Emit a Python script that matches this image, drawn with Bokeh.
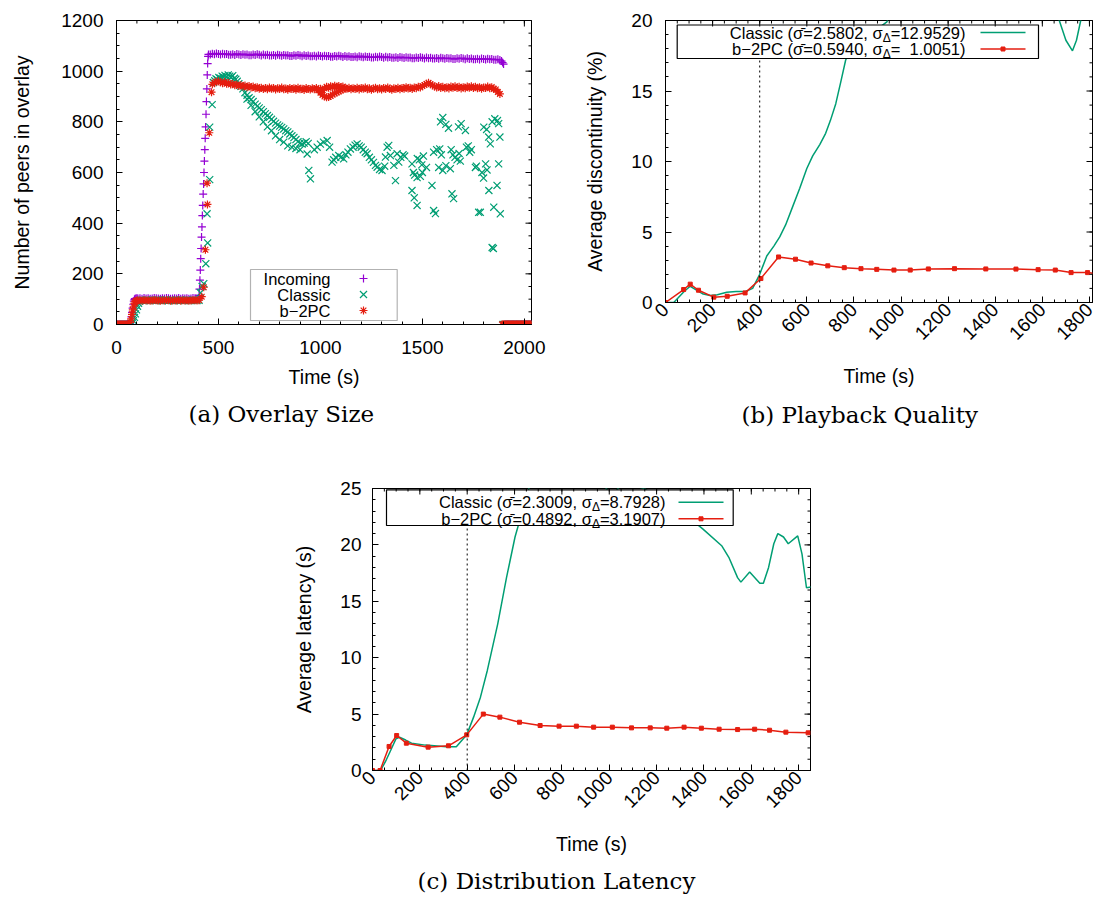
import math
from bokeh.plotting import figure
from bokeh.models import Range1d, FixedTicker, Span, BoxAnnotation, Label, Spacer, Title
from bokeh.layouts import row, column
from bokeh.embed import file_html
from bokeh.resources import INLINE

PURPLE = "#9400d3"
GREEN = "#009e73"
RED = "#e51e10"
SANS = "Liberation Sans"
SERIF = "DejaVu Serif"

# ---------------- (a) Overlay size : scatter samples ----------------
inc_t = (list(range(0, 65, 5)) + [67, 70, 73, 76, 79, 82, 85, 88, 91, 95, 100]
         + list(range(105, 405, 10)) + list(range(405, 452, 2))
         + list(range(460, 1890, 10)) + [1888, 1893, 1898] + list(range(1905, 2040, 5)))
inc_v = ([0, 0, 0, 0, 0, 0, 0, 0, 0, 0, 0, 0, 0]
         + [5, 15, 30, 48, 65, 80, 92, 99, 102, 103, 104]
         + [103, 104, 102, 105, 103, 104, 102, 103, 105, 104, 103, 102, 104, 103, 105,
            104, 102, 103, 104, 103, 105, 102, 104, 103, 104, 102, 103, 105, 104, 103]
         + [115, 140, 175, 215, 260, 300, 345, 385, 430, 470, 515, 555, 600, 645, 690,
            735, 780, 830, 880, 930, 985, 1030, 1058, 1066]
         + [1066, 1069, 1067, 1070, 1068, 1066, 1069, 1067, 1068, 1065,
            1065, 1067, 1064, 1068, 1066, 1064, 1067, 1065, 1066, 1063,
            1063, 1066, 1064, 1067, 1065, 1062, 1066, 1063, 1065, 1062,
            1062, 1064, 1061, 1065, 1063, 1061, 1064, 1062, 1063, 1060,
            1060, 1063, 1061, 1064, 1062, 1059, 1063, 1060, 1062, 1059,
            1059, 1061, 1058, 1062, 1060, 1058, 1061, 1059, 1060, 1057,
            1057, 1060, 1058, 1061, 1059, 1056, 1060, 1057, 1059, 1056,
            1056, 1058, 1055, 1059, 1057, 1055, 1058, 1056, 1057, 1054,
            1054, 1057, 1055, 1058, 1056, 1053, 1057, 1054, 1056, 1053,
            1053, 1055, 1052, 1056, 1054, 1052, 1055, 1053, 1054, 1051,
            1051, 1054, 1052, 1055, 1053, 1050, 1054, 1051, 1053, 1050,
            1050, 1052, 1049, 1053, 1051, 1049, 1052, 1050, 1051, 1048,
            1048, 1051, 1049, 1052, 1050, 1047, 1051, 1048, 1050, 1047,
            1047, 1049, 1046, 1050, 1048, 1046, 1049, 1047, 1048, 1045,
            1045, 1047, 1044]
         + [1040, 1034, 1028]
         + [0, 0, 0, 0, 0, 0, 0, 0, 0, 0, 0, 0, 0, 0, 0, 0, 0, 0, 0, 0, 0, 0, 0, 0, 0, 0, 0])

cls_t_start = list(range(0, 75, 5)) + [78, 83, 88, 93, 98, 103, 108, 113, 118] + list(range(125, 415, 10))
cls_v_start = ([0, 0, 0, 0, 0, 0, 0, 0, 0, 0, 0, 0, 0, 0, 0]
               + [5, 15, 28, 42, 58, 72, 84, 92, 95]
               + [96, 95, 97, 96, 94, 96, 95, 97, 96, 95, 94, 96, 97, 95, 96, 95, 94, 96, 95,
                  97, 96, 95, 96, 94, 95, 97, 96, 95, 96])
cls_points = [
    (412, 125), (420, 150), (428, 161), (438, 240), (447, 322), (444, 437), (457, 572), (457, 779), (469, 868),
    (475, 955), (482, 962), (488, 970), (495, 966), (502, 975), (510, 972), (518, 980), (525, 976), (532, 983),
    (540, 978), (548, 985), (555, 980), (562, 976), (570, 982), (578, 972), (585, 968), (592, 960), (600, 950),
    (610, 940), (620, 930), (630, 915), (640, 905), (650, 895), (660, 888), (670, 880), (680, 870), (690, 862),
    (700, 855), (710, 848), (720, 840), (730, 832), (740, 825), (750, 818), (760, 810), (770, 802), (780, 795),
    (790, 788), (800, 783), (810, 778), (820, 772), (830, 765), (840, 760), (850, 752), (860, 745), (870, 738),
    (880, 730), (890, 722), (900, 716), (910, 712), (920, 716), (930, 722), (940, 715),
    (640, 890), (660, 865), (680, 840), (700, 820), (720, 800), (740, 780), (760, 765), (780, 745), (800, 730),
    (820, 720), (840, 705), (860, 700), (880, 695), (900, 690),
    (935, 673), (943, 608), (951, 575),
    (970, 690), (984, 700), (1000, 712), (1015, 720), (1033, 726), (1045, 700), (1057, 641), (1065, 650),
    (1075, 660), (1090, 667), (1100, 660), (1114, 654), (1125, 670), (1135, 680), (1147, 693), (1160, 700),
    (1170, 708), (1180, 713), (1190, 705), (1200, 700), (1210, 690), (1220, 680), (1229, 674), (1240, 660),
    (1250, 650), (1260, 640), (1270, 628), (1278, 621), (1290, 612), (1302, 608), (1315, 625), (1319, 661),
    (1327, 700), (1335, 707), (1343, 667), (1360, 628), (1368, 568), (1376, 674), (1384, 641),
    (1394, 660), (1405, 670), (1413, 665), (1449, 634), (1456, 600), (1462, 590), (1474, 580), (1490, 585),
    (1500, 600), (1449, 529), (1460, 500), (1474, 470), (1475, 655), (1485, 650), (1497, 630), (1505, 665),
    (1520, 620), (1547, 549), (1555, 680), (1570, 690), (1585, 693), (1593, 670), (1555, 450), (1564, 438),
    (1580, 620), (1600, 608), (1615, 627), (1637, 615), (1589, 800), (1600, 817), (1615, 790), (1628, 775),
    (1641, 690), (1650, 670), (1660, 660), (1670, 650), (1680, 675), (1686, 645), (1645, 516), (1653, 497),
    (1677, 780), (1690, 793), (1711, 766), (1716, 700), (1725, 705), (1732, 680), (1740, 690), (1760, 620),
    (1765, 625), (1776, 443), (1784, 443), (1792, 600), (1800, 578), (1810, 634), (1817, 610), (1801, 779),
    (1815, 770), (1825, 740), (1833, 713), (1826, 529), (1842, 800), (1855, 812), (1868, 805), (1874, 793),
    (1842, 304), (1848, 300), (1850, 463), (1866, 549), (1874, 634), (1880, 740), (1882, 437),
]
cls_t_end = list(range(1895, 2040, 5))
cls_v_end = [0] * len(cls_t_end)

b2_t = (list(range(0, 65, 5)) + [68, 72, 76, 80, 84, 88, 92, 96, 100] + list(range(105, 415, 10))
        + [418, 428, 436, 444, 446, 455, 466] + list(range(470, 1890, 10)))
b2_v = ([0, 0, 0, 0, 0, 0, 0, 0, 0, 0, 0, 0, 0]
        + [8, 22, 40, 58, 72, 84, 90, 93, 95]
        + [95, 96, 94, 97, 95, 96, 94, 95, 97, 96, 95, 94, 96, 95, 97, 96, 94, 95, 96, 95,
           97, 94, 96, 95, 96, 94, 95, 97, 96, 95, 96]
        + [110, 147, 295, 558, 474, 757, 917]
        + [948, 955, 958, 960, 956, 952, 957, 950, 953, 947,
           949, 944, 947, 941, 945, 939, 943, 937, 941, 936,
           939, 933, 937, 931, 935, 930, 934, 929, 936, 931,
           934, 928, 933, 930, 936, 929, 932, 927, 934, 930,
           933, 927, 935, 929, 931, 926, 934, 930, 928, 933,
           929, 934, 927, 931, 925, 932, 938, 935, 940, 937,
           942, 938, 941, 936, 939, 934, 931, 935, 929, 933,
           930, 935, 928, 934, 931, 936, 929, 933, 927, 932,
           935, 929, 933, 928, 934, 930, 936, 931, 927, 933,
           930, 935, 929, 934, 931, 937, 932, 935, 930, 936,
           933, 938, 936, 941, 945, 950, 954, 948, 944, 939,
           936, 941, 934, 938, 933, 937, 932, 939, 935, 940,
           934, 938, 932, 937, 933, 939, 935, 940, 934, 938,
           933, 937, 931, 936, 934, 939, 933, 937, 930, 928,
           918, 910])
b2_loop_t = [990, 1000, 1010, 1020, 1030, 1040, 1050, 1060, 1070, 1080, 1090, 1100, 1110, 1120]
b2_loop_v = [925, 915, 906, 900, 897, 898, 902, 908, 912, 916, 920, 924, 928, 931]
b2_end_t = list(range(1890, 2036, 4))
b2_end_v = [0] * len(b2_end_t)

# ---------------- (b) Playback quality ----------------
pq_cls_t = [0, 35, 55, 80, 105, 130, 160, 190, 220, 260, 300, 340, 370, 400, 430, 460, 485, 510, 540, 570,
            600, 625, 655, 680, 700, 723, 745, 765, 800, 850, 900, 940, 1000, 1100, 1200, 1300, 1400, 1500,
            1600, 1650, 1672, 1700, 1728, 1745, 1763, 1790, 1813]
pq_cls_v = [0, 0, 0.35, 0.8, 1.15, 0.9, 0.6, 0.5, 0.55, 0.72, 0.78, 0.78, 1.0, 2.0, 3.3, 4.0, 4.65, 5.5, 6.8, 8.1,
            9.5, 10.4, 11.2, 12.0, 12.9, 14.1, 15.7, 17.2, 18.4, 19.0, 19.4, 19.9, 22.5, 25.8, 27.5, 27.0, 25.5, 23.8,
            22.0, 20.6, 20.0, 18.6, 17.85, 18.6, 20.0, 22.0, 23.5]
pq_b2_t = [0, 77, 105, 140, 205, 262, 338, 405, 480, 552, 618, 689, 759, 830, 897, 970, 1039, 1116, 1227,
           1360, 1488, 1582, 1655, 1722, 1792, 1830]
pq_b2_v = [0, 0.92, 1.3, 0.87, 0.38, 0.44, 0.68, 1.7, 3.23, 3.07, 2.8, 2.6, 2.47, 2.4, 2.35, 2.3, 2.3, 2.38, 2.4,
           2.38, 2.37, 2.33, 2.3, 2.12, 2.12, 2.05]

# ---------------- (c) Distribution latency ----------------
dl_cls_t = [0, 34, 55, 77, 99, 114, 140, 165, 223, 311, 354, 398, 427, 456, 485, 529, 566, 602, 660, 750,
            850, 950, 1010, 1060, 1148, 1250, 1350, 1396, 1476, 1505, 1542, 1556, 1593, 1636, 1651, 1673,
            1695, 1712, 1736, 1756, 1796, 1814, 1833, 1862]
dl_cls_v = [0, 0, 0.8, 1.8, 2.8, 2.95, 2.7, 2.42, 2.25, 2.1, 2.1, 3.16, 4.73, 6.5, 8.87, 13.0, 17.1, 20.7, 25.0,
            27.5, 28.5, 26.0, 24.4, 25.5, 25.0, 23.5, 22.2, 21.4, 19.9, 18.9, 17.1, 16.7, 17.6, 16.6, 16.6, 18.0,
            20.1, 21.0, 20.7, 20.1, 20.8, 19.2, 16.2, 16.3]
dl_b2_t = [0, 32, 70, 102, 143, 235, 321, 398, 468, 538, 621, 708, 788, 861, 934, 1013, 1094, 1173, 1243,
           1316, 1389, 1464, 1542, 1614, 1677, 1746, 1840]
dl_b2_v = [0, 0, 2.13, 3.1, 2.42, 2.07, 2.19, 3.16, 5.0, 4.73, 4.28, 3.99, 3.93, 3.93, 3.84, 3.84, 3.78, 3.78,
           3.75, 3.84, 3.75, 3.66, 3.63, 3.66, 3.57, 3.4, 3.34]

# legend statistics
stat_b = [("Classic", "2.5802", "12.9529"), ("b\u22122PC", "0.5940", "\u00a0\u00a01.0051")]
stat_c = [("Classic", "2.3009", "8.7928"), ("b\u22122PC", "0.4892", "3.1907")]


class Frame:
    def __init__(self, xr, yr, w, h):
        self.xr, self.yr, self.w, self.h = xr, yr, w, h

    def x(self, px):
        return self.xr[0] + px / self.w * (self.xr[1] - self.xr[0])

    def y(self, py):
        return self.yr[1] - py / self.h * (self.yr[1] - self.yr[0])

    def dx(self, px):
        return px / self.w * (self.xr[1] - self.xr[0])

    def dy(self, py):
        return py / self.h * (self.yr[1] - self.yr[0])


def make_fig(width, height, border, xr, yr):
    p = figure(width=width, height=height, output_backend="svg", toolbar_location=None,
               x_range=Range1d(*xr), y_range=Range1d(*yr),
               min_border_left=border[0], min_border_right=border[1],
               min_border_top=border[2], min_border_bottom=border[3])
    p.grid.visible = False
    p.outline_line_color = "black"
    p.outline_line_width = 1
    p.background_fill_color = "white"
    p.border_fill_color = "white"
    return p


def style_axis(ax, major, minor):
    ax.ticker = FixedTicker(ticks=major, minor_ticks=minor)
    ax.major_tick_in = 6
    ax.major_tick_out = 0
    ax.minor_tick_in = 3
    ax.minor_tick_out = 0
    ax.axis_line_color = "black"
    ax.major_tick_line_color = "black"
    ax.minor_tick_line_color = "black"
    ax.major_label_text_font = SANS
    ax.major_label_text_color = "black"
    ax.major_label_text_font_size = "19px"


def mirror_ticks(p, fr, xmaj, xmin, ymaj, ymin):
    # tick marks on the top and right borders (inward), like gnuplot's mirrored tics
    xs0, ys0, xs1, ys1 = [], [], [], []
    top, right = fr.yr[1], fr.xr[1]
    for ticks, ln in ((xmaj, 6), (xmin, 3)):
        for t in ticks:
            xs0.append(t); xs1.append(t); ys0.append(top); ys1.append(top - fr.dy(ln))
    for ticks, ln in ((ymaj, 6), (ymin, 3)):
        for t in ticks:
            ys0.append(t); ys1.append(t); xs0.append(right); xs1.append(right - fr.dx(ln))
    r = p.segment(xs0, ys0, xs1, ys1, line_color="black", line_width=1)
    r.level = "overlay"


def setup_axes(p, fr, xmaj, xmin, ymaj, ymin, xlabel, ylabel, rot, xstand, ystand, xlab_stand, ylab_stand):
    style_axis(p.xaxis[0], xmaj, xmin)
    style_axis(p.yaxis[0], ymaj, ymin)
    p.xaxis[0].major_label_standoff = xstand
    p.yaxis[0].major_label_standoff = ystand
    if rot:
        p.xaxis[0].major_label_orientation = math.pi / 4
    for ax, lab in ((p.xaxis[0], xlabel), (p.yaxis[0], ylabel)):
        ax.axis_label = lab
        ax.axis_label_text_font = SANS
        ax.axis_label_text_font_style = "normal"
        ax.axis_label_text_font_size = "19.5px"
        ax.axis_label_text_color = "black"
    p.xaxis[0].axis_label_standoff = xlab_stand
    p.yaxis[0].axis_label_standoff = ylab_stand
    mirror_ticks(p, fr, xmaj, xmin, ymaj, ymin)


def add_caption(p, text, offset, standoff):
    t = Title(text=text, align="left", offset=offset, standoff=standoff,
              text_font=SERIF, text_font_size="23px", text_font_style="normal", text_color="black")
    p.add_layout(t, "below")


CW = {"=": 0.584, ".": 0.278, ")": 0.333, "\u00a0": 0.278, "\u0394": 0.668, " ": 0.278}


def text_w(s, size):
    return sum(CW.get(ch, 0.556) for ch in s) * size


def stat_legend(p, fr, stats, colors, box, text_end, rows, sample):
    p.add_layout(BoxAnnotation(left=fr.x(box[0]), right=fr.x(box[1]), top=fr.y(box[2]), bottom=fr.y(box[3]),
                               fill_color="white", fill_alpha=1.0, line_color="black", line_width=1.2,
                               line_alpha=1.0))
    fs = 16.5
    for (name, mean, dev), color, ry, marker in zip(stats, colors, rows, (False, True)):
        post = "=" + dev + ")"
        pre = name + " (\u03c3\u0304=" + mean + ", \u03c3"
        w_post = text_w(post, fs)
        w_sub = text_w("\u0394", 12)
        common = dict(x=fr.x(text_end), y=fr.y(ry), text_align="right", text_baseline="middle",
                      text_font=SANS, text_color="black")
        p.add_layout(Label(text=post, text_font_size="16.5px", **common))
        p.add_layout(Label(text="\u0394", text_font_size="12px", x_offset=-w_post, y_offset=-5, **common))
        p.add_layout(Label(text=pre, text_font_size="16.5px", x_offset=-(w_post + w_sub), **common))
        r = p.line([fr.x(sample[0]), fr.x(sample[1])], [fr.y(ry), fr.y(ry)], line_color=color, line_width=1.5)
        r.level = "overlay"
        if marker:
            m = p.scatter([fr.x((sample[0] + sample[1]) / 2)], [fr.y(ry)], marker="square", size=4,
                          fill_color=color, line_color=color)
            m.level = "overlay"


BOTTOM = 136

# ================= (a) =================
XA, YA = (0, 2035), (0, 1200)
pa = make_fig(548, 20 + 304 + BOTTOM, (116, 17, 20, BOTTOM), XA, YA)
fa = Frame(XA, YA, 415, 304)
setup_axes(pa, fa, list(range(0, 2001, 500)), list(range(0, 2001, 100)), list(range(0, 1201, 200)),
           list(range(0, 1201, 50)), "Time (s)", "Number of peers in overlay", False, 16, 13, 9, 25)
cls_t = cls_t_start + [t for t, v in cls_points] + cls_t_end
cls_v = cls_v_start + [v for t, v in cls_points] + cls_v_end
pa.scatter(inc_t, inc_v, marker="cross", size=8, line_color=PURPLE, line_width=1.2)
pa.scatter(cls_t, cls_v, marker="x", size=10, line_color=GREEN, line_width=1.2)
pa.scatter(b2_t + b2_loop_t + b2_end_t, b2_v + b2_loop_v + b2_end_v, marker="asterisk", size=8,
           line_color=RED, line_width=1.2)
pa.add_layout(BoxAnnotation(left=fa.x(134), right=fa.x(280.7), top=fa.y(249), bottom=fa.y(300),
                            fill_color="white", fill_alpha=1.0, line_color="black", line_width=1.2))
for name, ry, mk, col, sz in (("Incoming", 258, "cross", PURPLE, 8), ("Classic", 274, "x", GREEN, 10),
                              ("b\u22122PC", 290, "asterisk", RED, 8)):
    pa.add_layout(Label(x=fa.x(214), y=fa.y(ry), text=name, text_align="right", text_baseline="middle",
                        text_font=SANS, text_font_size="16.5px", text_color="black"))
    r = pa.scatter([fa.x(247)], [fa.y(ry)], marker=mk, size=sz, line_color=col, line_width=1.2)
    r.level = "overlay"
add_caption(pa, "(a) Overlay Size", 72, 17)

# ================= (b) =================
XB, YB = (0, 1813), (0, 20)
pb = make_fig(548, 20 + 282 + BOTTOM, (117, 4, 20, BOTTOM), XB, YB)
fb = Frame(XB, YB, 427, 282)
setup_axes(pb, fb, list(range(0, 1801, 200)), list(range(0, 1801, 50)), [0, 5, 10, 15, 20],
           list(range(0, 21)), "Time (s)", "Average discontinuity (%)", True, 4, 13, 16, 22)
pb.add_layout(Span(location=400, dimension="height", line_color="black", line_dash="2 3", line_width=1))
pb.line(pq_cls_t, pq_cls_v, line_color=GREEN, line_width=1.5)
pb.line(pq_b2_t, pq_b2_v, line_color=RED, line_width=1.5)
pb.scatter(pq_b2_t, pq_b2_v, marker="square", size=4, fill_color=RED, line_color=RED)
stat_legend(pb, fb, stat_b, (GREEN, RED), (11.7, 373, 4.5, 38), 300, (12, 28.5), (315, 360))
add_caption(pb, "(b) Playback Quality", 76, 20)

# ================= (c) =================
TOP_ROW = 20 + 304 + BOTTOM
XC, YC = (0, 1850), (0, 25)
pc = make_fig(568, 902 - TOP_ROW, (100, 30, 488 - TOP_ROW, 902 - TOP_ROW - (488 - TOP_ROW) - 282), XC, YC)
fc = Frame(XC, YC, 438, 282)
setup_axes(pc, fc, list(range(0, 1801, 200)), list(range(0, 1851, 50)), [0, 5, 10, 15, 20, 25],
           list(range(0, 26)), "Time (s)", "Average latency (s)", True, 4, 11, 16, 22)
pc.add_layout(Span(location=400, dimension="height", line_color="black", line_dash="2 3", line_width=1))
pc.line(dl_cls_t, dl_cls_v, line_color=GREEN, line_width=1.5)
pc.line(dl_b2_t, dl_b2_v, line_color=RED, line_width=1.5)
pc.scatter(dl_b2_t, dl_b2_v, marker="square", size=4, fill_color=RED, line_color=RED)
stat_legend(pc, fc, stat_c, (GREEN, RED), (14, 360.7, 1.3, 37), 293, (13.7, 30.3), (306, 351))
add_caption(pc, "(c) Distribution Latency", 45, 17)

layout = column(row(pa, pb), row(Spacer(width=272, height=902 - TOP_ROW), pc))
open("out.html", "w").write(file_html(layout, INLINE))
